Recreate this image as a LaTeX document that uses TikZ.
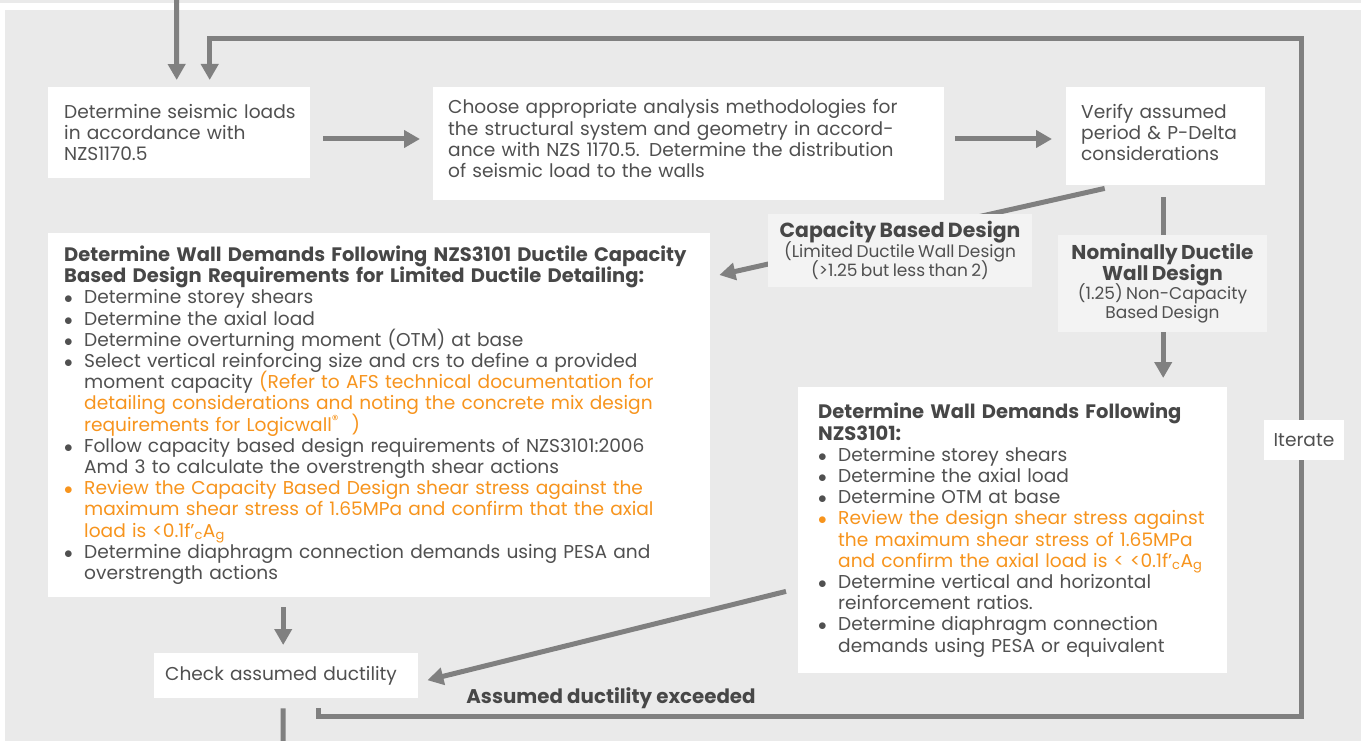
\documentclass[tikz,border=0pt]{standalone}
\usepackage{fontspec}
\setmainfont{Poppins}
\usepackage{xcolor}
\usetikzlibrary{arrows.meta,positioning}
\definecolor{panelgray}{HTML}{EAEAEA}
\definecolor{labelgray}{HTML}{F3F3F3}
\definecolor{linegray}{HTML}{808080}
\definecolor{textgray}{HTML}{505050}
\definecolor{titlegray}{HTML}{474747}
\definecolor{afsorange}{HTML}{F7941D}
\newcommand{\ind}[1]{\leftskip=#1\relax\lineskiplimit=-100pt\relax}
\newcommand{\bul}{\par\hangindent=20pt\hangafter=1\noindent\color{textgray}\makebox[20pt][l]{$\bullet$}}
\newcommand{\obul}{\par\hangindent=20pt\hangafter=1\noindent\color{afsorange}\makebox[20pt][l]{$\bullet$}}
\newcommand{\fca}{0.1f'\textsubscript{c}A\textsubscript{g}}
\newcommand{\hd}[1]{{\fontsize{19.5}{21.2}\selectfont\bfseries\color{titlegray}#1\par}}

\begin{document}
\begin{tikzpicture}[x=1pt,y={(0,-1pt)},
    box/.style={fill=white,anchor=north west,align=left,inner xsep=0pt,inner ysep=0pt,
                text=textgray,font=\fontsize{18.6}{21.2}\selectfont},
    tag/.style={fill=labelgray,align=center,inner sep=0pt,text=textgray},
    arr/.style={draw=linegray,line width=5pt,-{Triangle[length=16pt,width=17pt]}},
    conn/.style={draw=linegray,line width=5pt}]
    \useasboundingbox (0,0) rectangle (1361,741);
    \fill[white] (0,0) rectangle (1361,741);
    \fill[panelgray] (0,0) rectangle (1361,3);
    \fill[panelgray] (5,10) rectangle (1361,741);

    \node[box,text width=262pt,minimum height=91pt] (seismic) at (48,87)
        {\ind{16pt}Determine seismic loads\\ in accordance with\\ NZS1170.5\par};
    \node[box,text width=511pt,minimum height=113pt] (analysis) at (433,87)
        {\ind{15pt}Choose appropriate analysis methodologies for\\ the structural system and geometry in accord-\\
         ance with NZS 1170.5. Determine the distribution\\ of seismic load to the walls\par\vspace{10pt}};
    \node[box,text width=199pt,minimum height=98pt] (verify) at (1066,87)
        {\ind{15pt}Verify assumed\\ period \& P-Delta\\ considerations\par\vspace{8pt}};
    \node[box,text width=662pt,minimum height=364pt] (ldbox) at (48,233)
        {\ind{16pt}%
         \hd{Determine Wall Demands Following NZS3101 Ductile Capacity\\
             Based Design Requirements for Limited Ductile Detailing:}
         \bul Determine storey shears
         \bul Determine the axial load
         \bul Determine overturning moment (OTM) at base
         \bul Select vertical reinforcing size and crs to define a provided\newline
              moment capacity {\color{afsorange}(Refer to AFS technical documentation for\newline
              detailing considerations and noting the concrete mix design\newline
              requirements for Logicwall\textsuperscript{®}\ \ )}
         \bul Follow capacity based design requirements of NZS3101:2006\newline
              Amd 3 to calculate the overstrength shear actions
         \obul Review the Capacity Based Design shear stress against the\newline
              maximum shear stress of 1.65MPa and confirm that the axial\newline
              load is <\fca
         \bul Determine diaphragm connection demands using PESA and\newline
              overstrength actions\par};
    \node[box,text width=429pt,minimum height=286pt] (ndbox) at (798,387)
        {\ind{20pt}%
         \hd{Determine Wall Demands Following\\ NZS3101:}
         \bul Determine storey shears
         \bul Determine the axial load
         \bul Determine OTM at base
         \obul Review the design shear stress against\newline
              the maximum shear stress of 1.65MPa\newline
              and confirm the axial load is < <\fca
         \bul Determine vertical and horizontal\newline
              reinforcement ratios.
         \bul Determine diaphragm connection\newline
              demands using PESA or equivalent\par};
    \node[box,text width=264pt,minimum height=45pt] (check) at (154,653)
        {\ind{11pt}Check assumed ductility\par};

    \coordinate (start) at (176.5,0);
    \coordinate (finish) at (283,741);
    \coordinate (loopbr) at (1301,716);
    \coordinate (looptr) at (1301,39);

    \draw[arr] (start) -- ([xshift=-2.5pt,yshift=7pt]seismic.north);
    \draw[arr] ([xshift=13pt]seismic.east |- 0,139) -- ([xshift=-13pt]analysis.west |- 0,139);
    \draw[arr] ([xshift=11pt]analysis.east |- 0,139) -- ([xshift=-14pt]verify.west |- 0,139);
    \draw[arr] ([xshift=-61pt,yshift=-3pt]verify.south) -- ([xshift=9pt,yshift=-42pt]ldbox.north east);
    \draw[arr] ([xshift=-2.5pt,yshift=-12pt]verify.south) -- ([xshift=-2.5pt,yshift=9pt]verify.south |- ndbox.north);
    \draw[arr] ([xshift=-3pt,yshift=-10pt]check.north |- ldbox.south) -- ([xshift=-3pt,yshift=8pt]check.north);
    \draw[arr] ([xshift=-12pt,yshift=82pt]ndbox.south west) -- ([xshift=9pt,yshift=-4.5pt]check.east);
    \draw[conn] ([xshift=-3pt,yshift=-10pt]check.south) -- (finish);
    \draw[arr] ([xshift=32pt,yshift=-10pt]check.south) |- (loopbr) -- (looptr)
        -- ([xshift=30.5pt]seismic.north |- looptr) -- ([xshift=30.5pt,yshift=7pt]seismic.north);

    \node[tag,text width=264pt,minimum height=73pt] (cbd) at (900,250.5)
        {\lineskiplimit=-100pt{\fontsize{20.4}{20}\selectfont\bfseries\color{titlegray}Capacity Based Design\par}
         {\fontsize{17}{19.5}\selectfont (Limited Ductile Wall Design\\ (>1.25 but less than 2)\par}};
    \node[tag,text width=209pt,minimum height=97pt] (ndd) at (1162.5,283.5)
        {\lineskiplimit=-100pt{\fontsize{20}{21}\selectfont\bfseries\color{titlegray}Nominally Ductile\\ Wall Design\par}
         {\fontsize{17}{19}\selectfont (1.25) Non-Capacity\\ Based Design\par}};
    \node[fill=white,text=textgray,minimum width=80pt,minimum height=40pt,inner sep=0pt,
          font=\fontsize{18.6}{21}\selectfont] (iterate) at (1304,440) {Iterate};
    \node[text=titlegray,font=\fontsize{19.8}{21}\selectfont\bfseries] (exceeded) at (611,698)
        {Assumed ductility exceeded};
\end{tikzpicture}
\end{document}
